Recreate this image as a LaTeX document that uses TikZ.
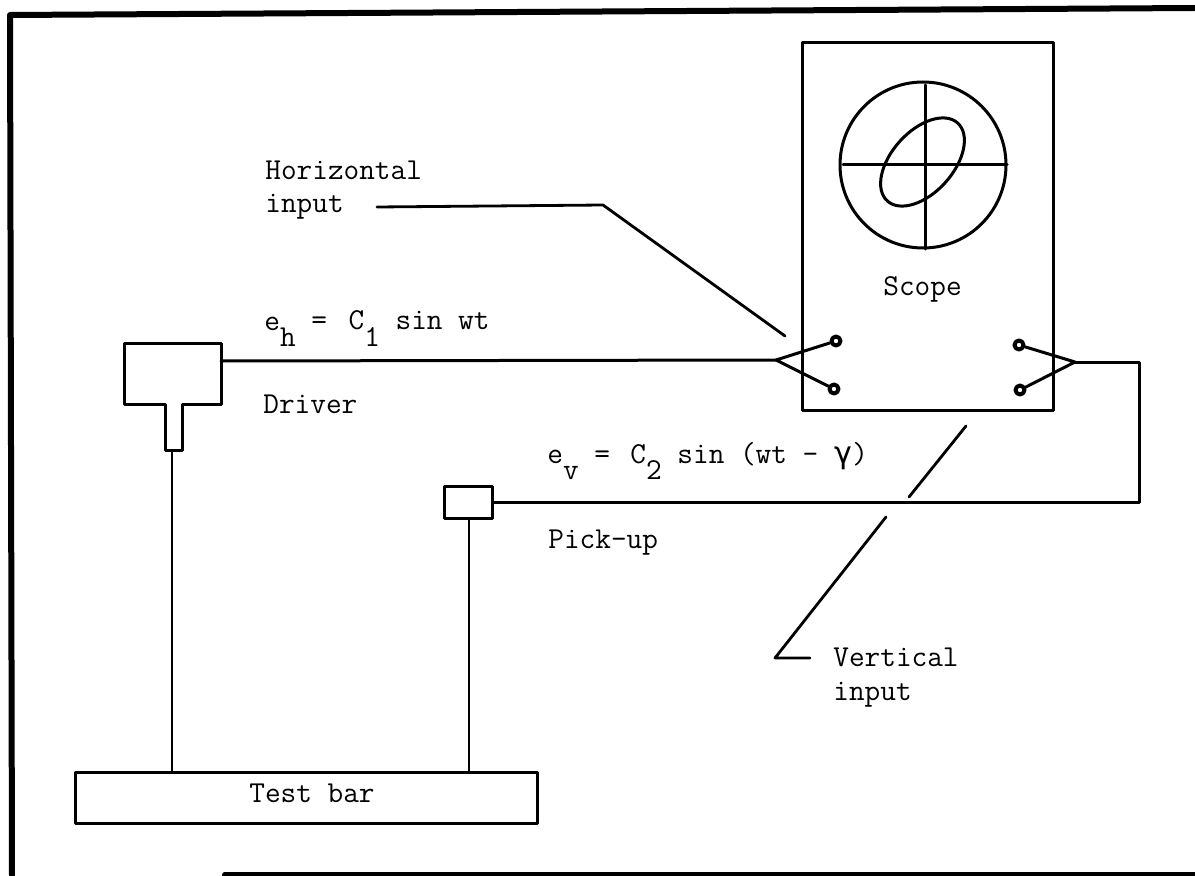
\documentclass[tikz,border=0pt]{standalone}
\usepackage{fontspec}
\newfontfamily\greekmono{DejaVu Sans Mono}
\newcommand{\lsub}[1]{\raisebox{-8pt}{#1}}
\tikzset{
  lbl/.style={font=\fontsize{15.2}{18}\selectfont\ttfamily, inner sep=0pt, anchor=base west, align=left},
  wire/.style={line width=1.5pt},
  rod/.style={line width=1.1pt},
  leader/.style={line width=1.4pt},
  term/.style={circle, draw, line width=2pt, inner sep=0pt, minimum size=4.5pt},
  box/.style={draw, line width=1.5pt, inner sep=0pt}
}
\begin{document}
\begin{tikzpicture}[x=0.5pt, y=0.5pt, line cap=round, line join=round]
  \useasboundingbox (0,0) rectangle (1195,875);
  % frame
  \draw[line width=3pt] (1195,867) -- (10,860) -- (12,0);
  \draw[line width=3pt] (225,0.5) -- (1195,0.5);
  % scope
  \node[box, minimum width=125.5pt, minimum height=183.5pt] (scope) at (927.5,648.5) {};
  \coordinate (screen) at (923,710);
  \draw[wire] (screen) circle (83);
  \draw[wire] (843,710) -- (1007,710);
  \draw[wire] (925,790) -- (925,626);
  \draw[wire, rotate around={48:(922.5,713)}] (922.5,713) ellipse (52.5 and 30.7);
  \node[lbl] (scopelabel) at (883,580) {Scope};
  % terminals
  \node[term] (hightop) at (836,534) {};
  \node[term] (hibot) at (834,486) {};
  \node[term] (vtop) at (1019,530) {};
  \node[term] (vbot) at (1020,485) {};
  \coordinate (hapex) at (776,515);
  \coordinate (vapex) at (1075,513);
  \coordinate (vcorner) at (1139,513);
  \draw[wire] (hightop) -- (hapex) -- (hibot);
  \draw[wire] (vtop) -- (vapex) -- (vbot);
  % driver
  \draw[box] (124,532) -- (221,532) -- (221,471) -- (182,471) -- (182,425)
    -- (165,425) -- (165,471) -- (124,471) -- cycle;
  \coordinate (driverout) at (221,514);
  \coordinate (driverfoot) at (172,425);
  \draw[wire] (driverout) -- (hapex);
  % pick-up
  \node[box, minimum width=24pt, minimum height=16pt] (pickup) at (468,373) {};
  \draw[wire] (vapex) -- (vcorner) |- (pickup.east);
  % test bar
  \node[box, minimum width=231pt, minimum height=25.5pt] (testbar) at (306,77.5) {};
  \node[lbl] (testlabel) at (249,73) {Test bar};
  \draw[rod] (driverfoot) -- (driverfoot |- testbar.north);
  \draw[rod] (pickup.south -| 469,0) -- (469,0 |- testbar.north);
  % labels
  \node[lbl] (horizlabel) at (265,696) {Horizontal};
  \node[lbl] (horizinput) at (265,662) {input};
  \node[lbl] (ehlabel) at (264,545) {e\lsub{h} = \hspace{3pt}C\lsub{1} sin wt};
  \node[lbl] (driverlabel) at (263,462) {Driver};
  \node[lbl] (evlabel) at (547,412) {e\lsub{v} = \hspace{2.4pt}C\lsub{2} sin (wt - {\greekmono γ})};
  \node[lbl] (pickuplabel) at (548,327) {Pick-up};
  \node[lbl] (vertlabel) at (833,209) {Vertical};
  \node[lbl] (vertinput) at (833,175) {input};
  % leaders
  \coordinate (hstart) at (377,668);
  \coordinate (hbend) at (603,670);
  \coordinate (hend) at (785,539);
  \draw[leader] (hstart) -- (hbend) -- (hend);
  \coordinate (vhigh) at (966,449);
  \coordinate (vgaptop) at (909,378);
  \coordinate (vgapbot) at (886,358);
  \coordinate (vbend) at (775,217);
  \coordinate (vend) at (810,217);
  \draw[leader] (vhigh) -- (vgaptop);
  \draw[leader] (vgapbot) -- (vbend) -- (vend);
\end{tikzpicture}
\end{document}
